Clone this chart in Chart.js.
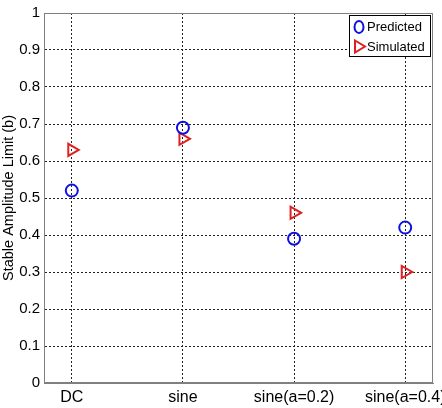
<!DOCTYPE html>
<html>
<head>
<meta charset="utf-8">
<script src="https://cdn.jsdelivr.net/npm/chart.js@4/dist/chart.umd.min.js"></script>
<style>
  html, body { margin: 0; padding: 0; background: #fff; overflow: hidden; }
  canvas { display: block; }
</style>
</head>
<body>
<canvas id="chart" width="442" height="408"></canvas>
<script>
  const categories = ["DC", "sine", "sine(a=0.2)", "sine(a=0.4)"];
  const predicted = [0.52, 0.69, 0.39, 0.42];
  const simulated = [0.63, 0.66, 0.46, 0.30];
  const yTicks = [0, 0.1, 0.2, 0.3, 0.4, 0.5, 0.6, 0.7, 0.8, 0.9, 1];

  const blue = "#1010e0";
  const red = "#e02020";
  const font = "'Liberation Sans', Arial, sans-serif";

  const toPoints = arr => arr.map((v, i) => ({ x: i, y: v }));

  // box around plot area + legend in the top right corner
  const boxAndLegend = {
    id: "boxAndLegend",
    afterDraw(chart) {
      const { ctx, chartArea: a } = chart;
      ctx.save();
      ctx.strokeStyle = "#808080";
      ctx.lineWidth = 1;
      ctx.strokeRect(a.left + 0.5, a.top + 0.5, a.right - a.left - 1, a.bottom - a.top - 1);

      // legend
      const lx = 349.5, ly = 15.5, lw = 81, lh = 41;
      ctx.fillStyle = "#fff";
      ctx.fillRect(lx, ly, lw, lh);
      ctx.strokeStyle = "#000";
      ctx.strokeRect(lx, ly, lw, lh);

      ctx.lineWidth = 2;
      ctx.strokeStyle = blue;
      ctx.beginPath();
      ctx.ellipse(359, 27, 4.5, 6, 0, 0, Math.PI * 2);
      ctx.stroke();

      ctx.strokeStyle = red;
      ctx.beginPath();
      ctx.moveTo(355, 40.5);
      ctx.lineTo(365, 46.5);
      ctx.lineTo(355, 52.5);
      ctx.closePath();
      ctx.stroke();

      ctx.fillStyle = "#000";
      ctx.font = "13px " + font;
      ctx.textBaseline = "middle";
      ctx.fillText("Predicted", 367, 27);
      ctx.fillText("Simulated", 367, 47);
      ctx.restore();
    }
  };

  new Chart(document.getElementById("chart"), {
    type: "scatter",
    data: {
      datasets: [
        {
          label: "Predicted",
          data: toPoints(predicted),
          pointStyle: "circle",
          pointRadius: 6,
          pointBorderWidth: 2,
          borderColor: blue,
          backgroundColor: "rgba(0,0,0,0)"
        },
        {
          label: "Simulated",
          data: toPoints(simulated),
          pointStyle: "triangle",
          rotation: 90,
          pointRadius: 7,
          pointBorderWidth: 2,
          borderColor: red,
          backgroundColor: "rgba(0,0,0,0)"
        }
      ]
    },
    options: {
      responsive: false,
      animation: false,
      layout: { padding: { top: 8, right: 9, left: 0, bottom: 0 } },
      plugins: {
        legend: { display: false },
        tooltip: { enabled: false }
      },
      scales: {
        x: {
          type: "linear",
          min: -0.25,
          max: 3.25,
          afterFit(scale) {
            scale.height = 25;
            scale.paddingLeft = 0;
            scale.paddingRight = 0;
          },
          afterBuildTicks(scale) {
            scale.ticks = categories.map((_, i) => ({ value: i }));
          },
          ticks: {
            autoSkip: false,
            maxRotation: 0,
            padding: 5,
            color: "#000",
            font: { family: font, size: 16 },
            callback: v => categories[v]
          },
          grid: { color: "#222", drawTicks: false, lineWidth: 1 },
          border: { display: true, color: "#808080", dash: [2, 2] }
        },
        y: {
          min: 0,
          max: 1,
          afterFit(scale) {
            scale.width = 44;
          },
          afterBuildTicks(scale) {
            scale.ticks = yTicks.map(v => ({ value: v }));
          },
          ticks: {
            padding: 4,
            color: "#000",
            font: { family: font, size: 15 },
            callback: v => String(+v.toFixed(1))
          },
          grid: { color: "#222", drawTicks: false, lineWidth: 1 },
          border: { display: true, color: "#808080", dash: [2, 2] },
          title: {
            display: true,
            text: "Stable Amplitude Limit (b)",
            color: "#000",
            font: { family: font, size: 14.5 },
            padding: { top: 0, bottom: 0 }
          }
        }
      }
    },
    plugins: [boxAndLegend]
  });
</script>
</body>
</html>
